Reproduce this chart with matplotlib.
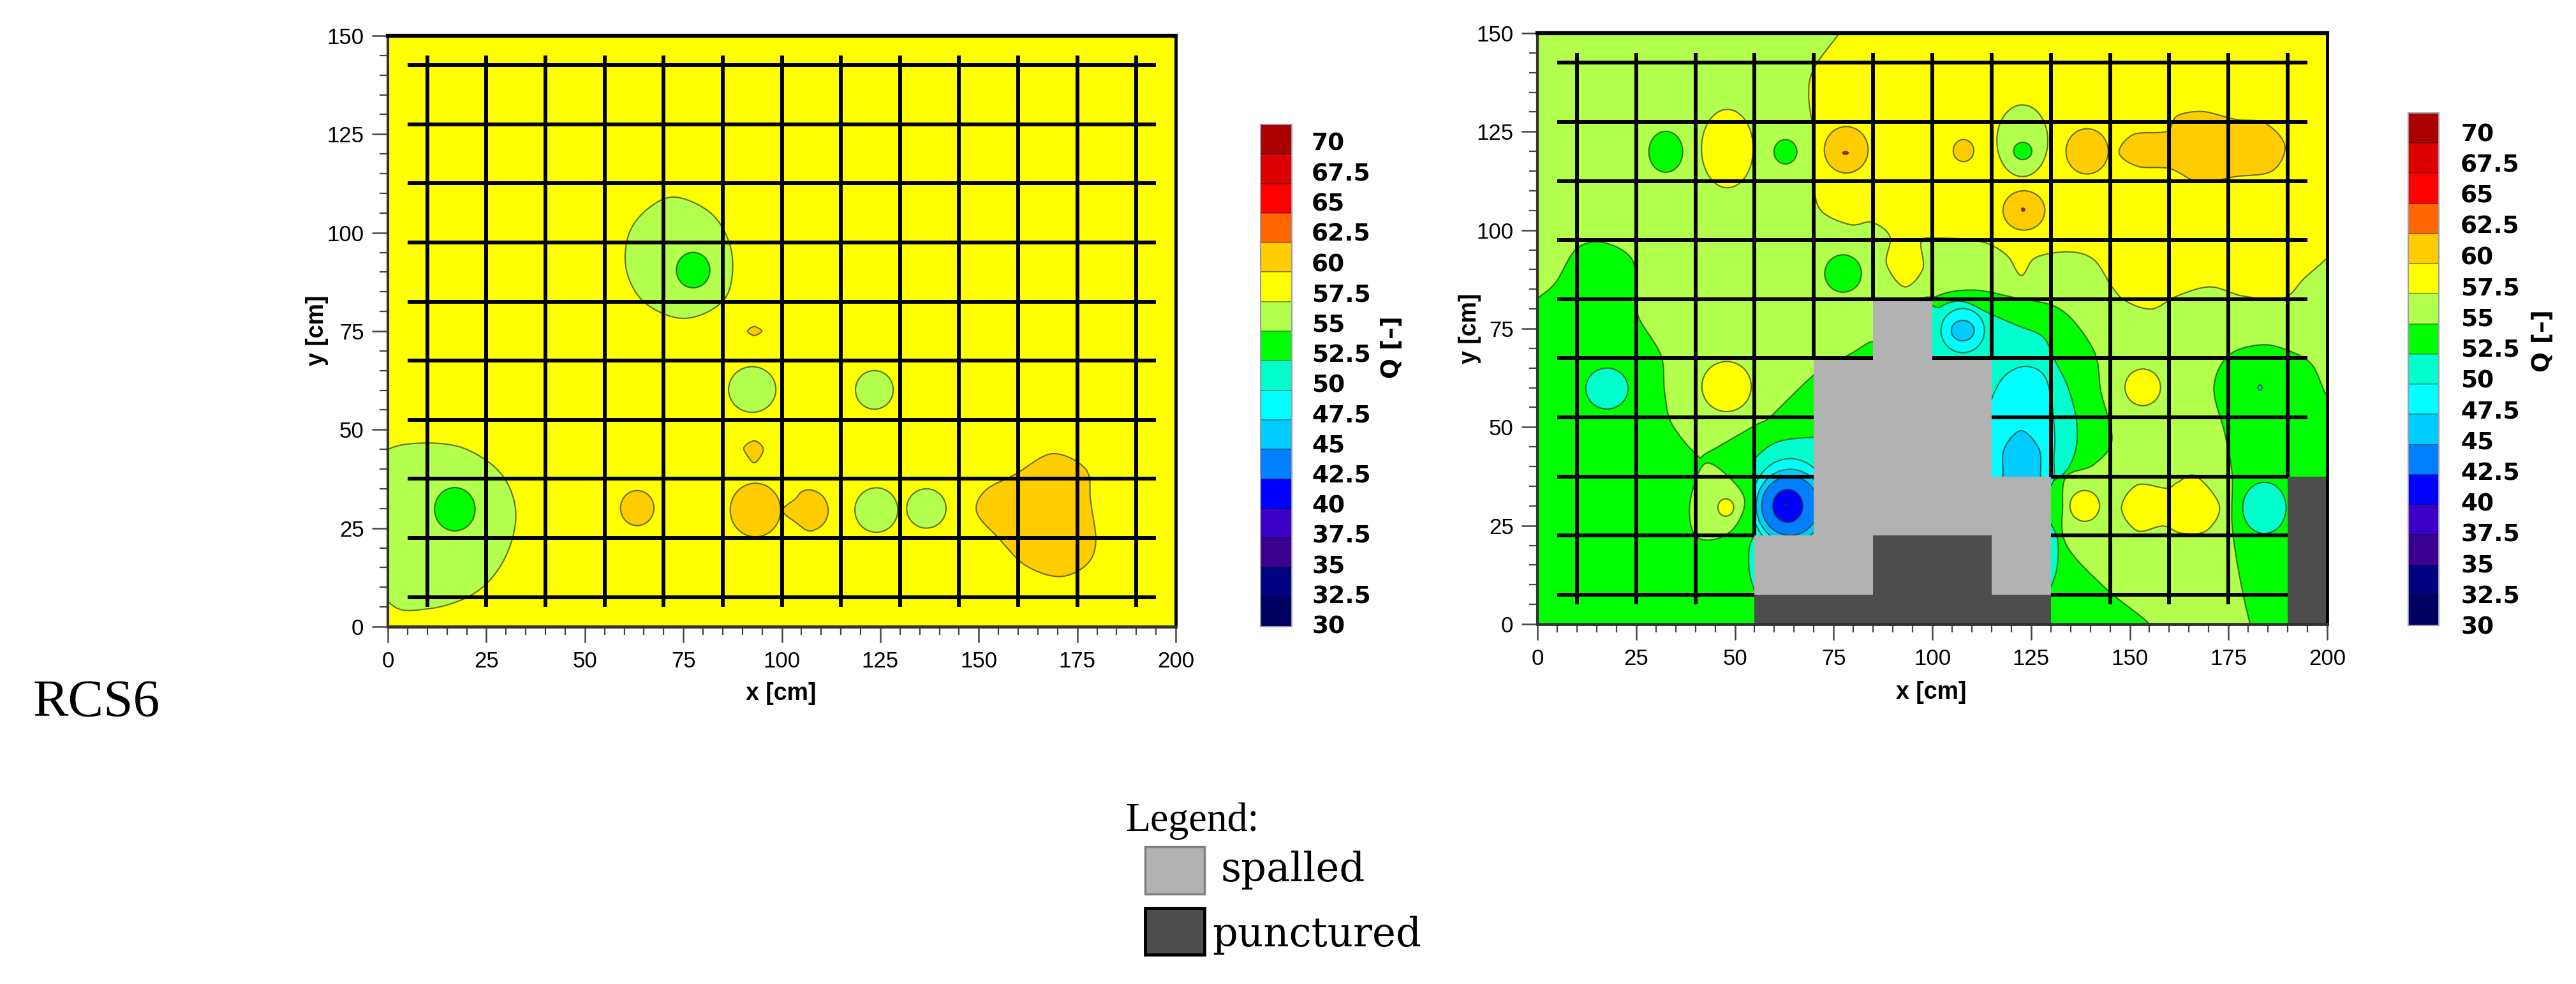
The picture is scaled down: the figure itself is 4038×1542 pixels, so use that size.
import numpy as np
import matplotlib
matplotlib.use("Agg")
import matplotlib.pyplot as plt
from matplotlib.path import Path as MPath
from matplotlib.patches import PathPatch, Ellipse, Rectangle

W, H = 4038, 1542

# contour levels and colours
q_labels = ["70", "67.5", "65", "62.5", "60", "57.5", "55", "52.5", "50",
            "47.5", "45", "42.5", "40", "37.5", "35", "32.5", "30"]
level_colors = {70: "#AA0000", 67.5: "#DD0000", 65: "#FF0000", 62.5: "#FF6600",
                60: "#FFCC00", 57.5: "#FFFF00", 55: "#B3FF4D", 52.5: "#00FF00",
                50: "#00FFCC", 47.5: "#00FFFF", 45: "#00CCFF", 42.5: "#0080FF",
                40: "#0000FF", 37.5: "#3A00C8", 35: "#3A0090", 32.5: "#000080",
                30: "#000060"}

grid_x = [10, 25, 40, 55, 70, 85, 100, 115, 130, 145, 160, 175, 190]
grid_y = [7.5, 22.5, 37.5, 52.5, 67.5, 82.5, 97.5, 112.5, 127.5, 142.5]

# left panel: outlines (level, xs, ys)
left_a_x = [10, 20, 29, 32.5, 29.5, 22, 10, 0, -8, -8, 0]
left_a_y = [46.6, 45, 38.5, 28.5, 17, 8.5, 4.5, 6.5, 25, 38, 45]
left_b_x = [73.3, 82.5, 87.2, 86.5, 81, 73.3, 64.7, 60.5, 61.3, 66.4]
left_b_y = [109, 104.5, 95.4, 85, 79.8, 78.4, 82.7, 90.8, 100, 106.4]
left_diamond_x = [93, 94.9, 93, 91.3]
left_diamond_y = [76.2, 75, 73.9, 75]
left_drop_x = [93, 95.2, 94.8, 93, 91.2, 90.4]
left_drop_y = [47.2, 45.5, 43.5, 41.6, 43.5, 45.5]
left_dumbbell_x = [107.5, 110.5, 111.8, 110.5, 107, 103.5, 100.2, 103.5, 105]
left_dumbbell_y = [34.7, 33, 29.5, 26, 24.3, 26.5, 29.5, 32.5, 34.2]
left_big_x = [168.7, 177.2, 178.4, 179.7, 177.2, 170.4, 161.8, 155, 149.5, 151.6, 159.3]
left_big_y = [43.9, 39.9, 31.8, 21.4, 15.6, 12.7, 15.6, 22.5, 29, 34.5, 38.7]
left_outlines = [(55, left_a_x, left_a_y), (55, left_b_x, left_b_y),
                 (60, left_diamond_x, left_diamond_y), (60, left_drop_x, left_drop_y),
                 (60, left_dumbbell_x, left_dumbbell_y),
                 (60, left_big_x, left_big_y)]
# left panel: round spots (level, cx, cy, w, h)
left_spots = [(55, 92.5, 60.2, 12, 11.6), (55, 123.5, 60.1, 9.6, 9.8),
              (55, 124, 29.6, 10.9, 11.3), (55, 136.7, 30, 10, 10),
              (52.5, 17, 29.8, 10.3, 11), (52.5, 77.5, 90.5, 8.5, 9),
              (60, 63.3, 30.1, 8.5, 8.9), (60, 93.3, 29.6, 12.8, 13.6)]

# right panel
right_yellow_x = [76.4, 70, 68.7, 70, 70, 71.8, 79.2, 84.7, 89.3, 88.4, 93, 97.6, 97.2,
                  101.3, 112.3, 118.8, 122.5, 126.1, 134.4, 140.9, 145.5, 149, 155.6,
                  162, 170.4, 178.6, 188.8, 194.3, 200, 206, 206, 80]
right_yellow_y = [150, 141, 134, 123.7, 112.2, 105, 101.4, 102, 98.3, 91.4, 85.6, 90.2,
                  97.1, 98, 97.1, 93.7, 88.5, 93, 94.5, 92.5, 85.6, 82, 80, 83.3, 85.6,
                  83.3, 82.7, 87.9, 93, 100, 156, 156]
right_green_left_x = [-6, 0, 4.6, 10, 17, 24, 24.9, 25.8, 31.3, 32.2, 34, 40.5, 43,
                      55.2, 58.9, 69.6, 73, 75, 75, 60, -6]
right_green_left_y = [78, 82.7, 86.7, 95.4, 96.8, 92.5, 83.3, 77.5, 68.2, 59, 50.9, 42.8,
                      43.5, 50.5, 52.6, 62.9, 64, 40, 2, -6, -6]
right_green_mid_x = [101.3, 110.5, 121.5, 132.6, 140.9, 142.7, 145.5, 140.9, 134, 133,
                     134, 144, 155, 158, 110, 96, 96]
right_green_mid_y = [83.3, 84.8, 82.7, 79.8, 69.4, 59, 46.8, 40.5, 37.5, 30, 20, 9, 0,
                     -6, -6, 40, 78]
right_green_notch_x = [76, 80, 84.7, 87, 86, 78]
right_green_notch_y = [66.5, 69, 71.7, 70, 65, 65]
right_green_right_x = [183.2, 175, 171.3, 174, 175.9, 175.9, 177.7, 180.5, 183, 206, 206,
                       200, 196.1, 190]
right_green_right_y = [70.9, 68.2, 60, 48.6, 38.2, 25.4, 12.7, 0, -6, -6, 50, 57.8,
                       65.9, 69.5]
right_lobe_x = [42.4, 48.8, 52.5, 49.7, 44.2, 39.6, 38.7]
right_lobe_y = [40.7, 37, 31.2, 24.3, 21.4, 23, 31.2]
right_orange_x = [147.3, 151, 159.3, 162, 168.5, 176.8, 184.2, 189.3, 186, 176.8, 167.6,
                  160.2, 152]
right_orange_y = [119.7, 124.3, 125.1, 129, 130.1, 128.1, 127.2, 121.4, 115, 113.6, 112.2,
                  115.6, 116.2]
right_pair_x = [166.7, 172.7, 169.4, 163, 158.4, 151.9, 147.9, 151.9, 159.3, 162]
right_pair_y = [37.6, 30, 23.7, 23.1, 24.9, 23.7, 29.5, 35.3, 34.5, 35.9]
right_teal_x = [98, 102, 107.7, 115, 121.5, 128, 131, 134.4, 136.6, 135.9, 131.7, 121.5, 96]
right_teal_y = [76, 80.5, 81.9, 78.6, 75.8, 72.9, 67, 60, 50.9, 42.8, 37, 34, 34]
right_cyan_x = [122.5, 117, 113, 113, 120, 129.8, 130.8, 131, 129.8, 127.5]
right_cyan_y = [65.3, 61.3, 50, 38, 35, 35, 42.8, 48.6, 59, 64]
right_col45_x = [122.5, 127, 127.4, 127, 118, 117.9, 118.2]
right_col45_y = [49.1, 44.5, 38.2, 35, 35, 38.2, 44.5]
right_sliver_a_x = [128, 131.6, 131.3, 128]
right_sliver_a_y = [26, 22, 13, 8]
right_sliver_b_x = [56, 53.8, 53.6, 54.8, 56]
right_sliver_b_y = [22.5, 20, 14, 9, 8]
right_cell_50_x = [50, 55, 60.7, 69.6, 78, 78, 50]
right_cell_50_y = [36, 42, 46.2, 47.4, 47, 18, 18]

right_outlines_back = [(57.5, right_yellow_x, right_yellow_y),
                       (52.5, right_green_left_x, right_green_left_y),
                       (52.5, right_green_mid_x, right_green_mid_y),
                       (52.5, right_green_notch_x, right_green_notch_y),
                       (52.5, right_green_right_x, right_green_right_y),
                       (55, right_lobe_x, right_lobe_y),
                       (60, right_orange_x, right_orange_y),
                       (57.5, right_pair_x, right_pair_y)]
right_outlines_front = [(50, right_teal_x, right_teal_y),
                        (47.5, right_cyan_x, right_cyan_y),
                        (45, right_col45_x, right_col45_y),
                        (50, right_sliver_a_x, right_sliver_a_y),
                        (50, right_sliver_b_x, right_sliver_b_y)]
right_spots_back = [(52.5, 32.5, 119.9, 8.6, 10.4), (52.5, 62.8, 119.9, 5.8, 6.2),
                    (52.5, 77.4, 89, 9.3, 9.5), (57.5, 48.1, 120.7, 13.1, 19.9),
                    (57.5, 47.9, 60.3, 12.5, 12.7), (57.5, 153.3, 60.1, 9, 9.3),
                    (57.5, 138.6, 30, 7.5, 7.8), (57.5, 47.7, 29.6, 4, 4.4),
                    (60, 78.2, 120.4, 11.1, 11.8), (60, 107.9, 120.2, 5.2, 5.6),
                    (60, 123.2, 105, 10.6, 10), (60, 139.2, 120, 10.7, 11.5),
                    (55, 122.8, 122.7, 12.9, 18.2), (52.5, 122.9, 120.1, 4.6, 4.4)]
right_spots_front = [(50, 17.6, 59.8, 10.7, 10.4), (50, 184.1, 29.5, 11, 13),
                     (47.5, 107.7, 74.5, 11, 11.2), (45, 107.7, 74.5, 5.8, 5.2),
                     (45, 183, 60, 1, 1.4), (65, 78, 119.6, 1.4, 0.7),
                     (65, 123, 105.2, 0.8, 0.8)]
# rings in the cell next to the damage, cut by the cell edges (level, cx, cy, w, h)
right_cell_rings = [(47.5, 64, 30.5, 19.5, 23), (45, 64, 30, 17.2, 18.6),
                    (42.5, 64, 30, 14.4, 15), (40, 63.4, 30, 7.6, 8.4),
                    (35, 62.8, 30.3, 0.5, 0.5)]

# grid left over on the right panel (position, start, end)
right_v_lines = [(10, 5, 145), (25, 5, 145), (40, 5, 145), (55, 22.5, 145), (70, 67.5, 145),
                 (85, 82.5, 145), (100, 82.5, 145), (115, 67.5, 145), (130, 37.5, 145),
                 (145, 5, 145), (160, 5, 145), (175, 5, 145), (190, 37.5, 145)]
right_h_lines = [(142.5, 5, 195), (127.5, 5, 195), (112.5, 5, 195), (97.5, 5, 195),
                 (82.5, 5, 195), (67.5, 5, 85), (67.5, 100, 195), (52.5, 5, 70),
                 (52.5, 115, 195), (37.5, 5, 70), (37.5, 130, 190), (22.5, 5, 55),
                 (22.5, 130, 190), (7.5, 5, 55), (7.5, 130, 190)]

# damaged cells (left, bottom, width, height)
spalled_cells = [(85, 67.5, 15, 15), (70, 37.5, 45, 30), (70, 22.5, 60, 15),
                 (55, 7.5, 30, 15), (115, 7.5, 15, 15)]
punctured_cells = [(55, 0, 75, 7.5), (85, 7.5, 30, 15), (190, 0, 10, 37.5)]

SPALLED = "#B2B2B2"
PUNCTURED = "#4D4D4D"
EDGE = (0.15, 0.22, 0.08, 0.7)
NARROW = ["Liberation Sans Narrow", "Liberation Sans", "DejaVu Sans"]


def px_axes(fig, x0, x1, y0, y1):
    return fig.add_axes([x0 / W, 1 - y1 / H, (x1 - x0) / W, (y1 - y0) / H])


def fig_text(fig, x, y, s, **kw):
    fig.text(x / W, 1 - y / H, s, **kw)


def smooth_patch(xs, ys, color):
    # closed spline through the outline points
    pts = np.column_stack([xs, ys])
    n = len(pts)
    verts = [pts[0]]
    codes = [MPath.MOVETO]
    for i in range(n):
        p0, p1, p2, p3 = pts[i - 1], pts[i], pts[(i + 1) % n], pts[(i + 2) % n]
        verts += [p1 + (p2 - p0) / 6, p2 - (p3 - p1) / 6, p2]
        codes += [MPath.CURVE4] * 3
    return PathPatch(MPath(verts, codes), facecolor=color, edgecolor=EDGE, linewidth=1.5, zorder=2)


def spot_patch(level, cx, cy, w, h):
    return Ellipse((cx, cy), w, h, facecolor=level_colors[level], edgecolor=EDGE,
                   linewidth=1.5, zorder=2)


def add_outlines(ax, outlines):
    for level, xs, ys in outlines:
        ax.add_patch(smooth_patch(xs, ys, level_colors[level]))


def add_spots(ax, spots):
    for spot in spots:
        ax.add_patch(spot_patch(*spot))


def setup_axes(ax):
    ax.set_xlim(0, 200)
    ax.set_ylim(0, 150)
    ax.set_xticks(range(0, 201, 25))
    ax.set_yticks(range(0, 151, 25))
    ax.set_xticks(range(0, 201, 5), minor=True)
    ax.set_yticks(range(0, 151, 5), minor=True)
    ax.tick_params(which="major", length=18, width=1.8, color="#444444", pad=9,
                   labelsize=25)
    ax.tick_params(which="minor", length=9.5, width=1.6, color="#444444")
    for lab in ax.get_xticklabels() + ax.get_yticklabels():
        lab.set_family(NARROW)
    for name, lw, col in [("top", 4.5, "black"), ("right", 3.5, "black"),
                          ("left", 3, "#333333"), ("bottom", 3.5, "#333333")]:
        ax.spines[name].set_linewidth(lw)
        ax.spines[name].set_color(col)
        ax.spines[name].set_zorder(6)


def colorbar(fig, x0, x1, y0, y1, label_x, first_y, step_y, q_x, q_y):
    cax = px_axes(fig, x0, x1, y0, y1)
    n = len(q_labels)
    for i, lab in enumerate(q_labels):
        cax.bar(0, 1, width=1, bottom=n - 1 - i, align="edge",
                color=level_colors[float(lab)], edgecolor=(0, 0, 0, 0.25), linewidth=1.5)
        fig_text(fig, label_x, first_y + i * step_y, lab, fontsize=27, fontweight="bold",
                 family="DejaVu Sans", va="center", ha="left")
    cax.set_xlim(0, 1)
    cax.set_ylim(0, n)
    cax.axis("off")
    cax.add_patch(Rectangle((0, 0), 1, n, fill=False, edgecolor="#9a9aaa", linewidth=1.5,
                            clip_on=False))
    fig_text(fig, q_x, q_y, "Q [\u2013]", fontsize=27, fontweight="bold", family="DejaVu Sans",
             rotation=90, va="center", ha="center")


fig = plt.figure(figsize=(W / 100, H / 100), dpi=100, facecolor="white")

# left panel
ax1 = px_axes(fig, 608, 1843, 56, 982)
ax1.set_facecolor(level_colors[57.5])
add_outlines(ax1, left_outlines)
add_spots(ax1, left_spots)
ax1.vlines(grid_x, 5, 145, color="black", linewidth=4.3, zorder=4)
ax1.hlines(grid_y, 5, 195, color="black", linewidth=4.3, zorder=4)
setup_axes(ax1)

# right panel
ax2 = px_axes(fig, 2410, 3648, 52, 978)
ax2.set_facecolor(level_colors[55])
add_outlines(ax2, right_outlines_back)
add_spots(ax2, right_spots_back)
add_outlines(ax2, right_outlines_front)
add_spots(ax2, right_spots_front)

cell_clip = Rectangle((55, 22.5), 15, 30, transform=ax2.transData)
cell_patch = smooth_patch(right_cell_50_x, right_cell_50_y, level_colors[50])
ax2.add_patch(cell_patch)
cell_patch.set_clip_path(cell_clip)
for ring in right_cell_rings:
    p = spot_patch(*ring)
    ax2.add_patch(p)
    p.set_clip_path(cell_clip)

for left, bottom, width, height in spalled_cells:
    ax2.bar(left, height, width=width, bottom=bottom, align="edge", color=SPALLED, zorder=3)
for left, bottom, width, height in punctured_cells:
    ax2.bar(left, height, width=width, bottom=bottom, align="edge", color=PUNCTURED, zorder=3)
for x, start, end in right_v_lines:
    ax2.vlines(x, start, end, color="black", linewidth=4.3, zorder=4)
for y, start, end in right_h_lines:
    ax2.hlines(y, start, end, color="black", linewidth=4.3, zorder=4)
setup_axes(ax2)

# axis labels
for x, y, s, rot in [(1224, 1087, "x [cm]", 0), (497, 518, "y [cm]", 90),
                     (3027, 1085, "x [cm]", 0), (2304, 515, "y [cm]", 90)]:
    fig_text(fig, x, y, s, fontsize=27, fontweight="bold", family=NARROW, rotation=rot,
             va="center", ha="center")

colorbar(fig, 1976, 2025, 195, 982, 2056, 226, 47.3, 2182, 544)
colorbar(fig, 3775, 3823, 177, 980, 3857, 211, 48.3, 3986, 534)

# side note and legend
fig_text(fig, 52, 1122, "RCS6", fontsize=60, family="Liberation Serif", va="baseline", ha="left")
fig_text(fig, 1764, 1302, "Legend:", fontsize=46, family="Liberation Serif", va="baseline", ha="left")
fig_text(fig, 1913, 1381, "spalled", fontsize=45, family="DejaVu Serif", va="baseline", ha="left")
fig_text(fig, 1900, 1483, "punctured", fontsize=45, family="DejaVu Serif", va="baseline", ha="left")
lax = fig.add_axes([0, 0, 1, 1], facecolor="none")
lax.set_xlim(0, W)
lax.set_ylim(H, 0)
lax.axis("off")
lax.add_patch(Rectangle((1795, 1327), 93, 74, facecolor=SPALLED, edgecolor="#808080", linewidth=2.5))
lax.add_patch(Rectangle((1795, 1423), 93, 73, facecolor=PUNCTURED, edgecolor="black", linewidth=3.5))

fig.savefig("out.png", dpi=100)
